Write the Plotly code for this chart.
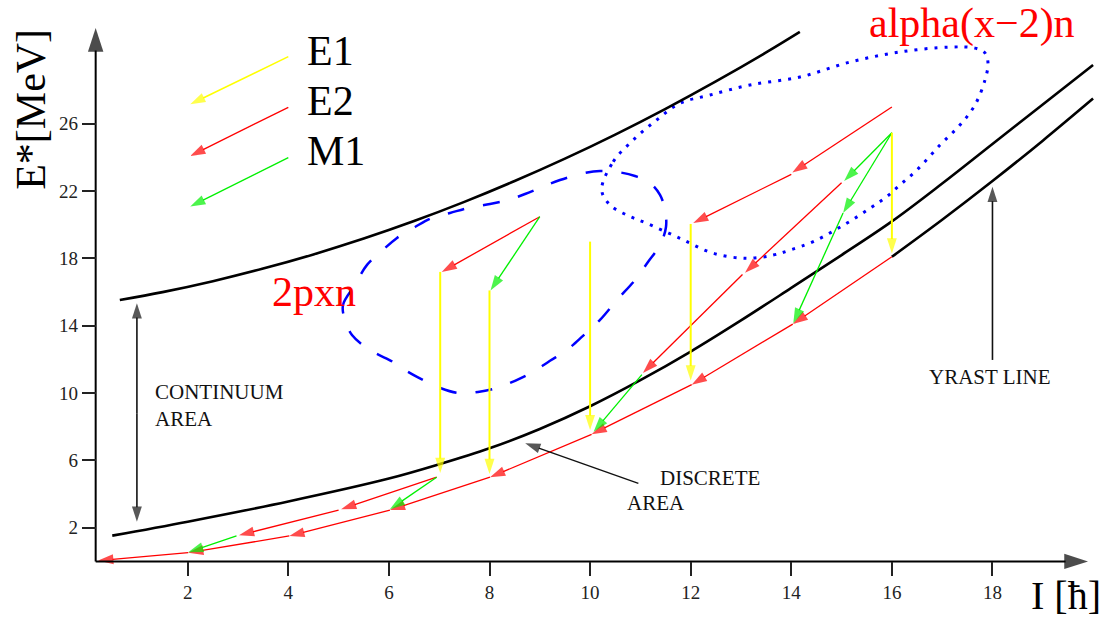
import plotly.graph_objects as go

# ---------------- data: I [hbar] vs E* [MeV] ----------------
UPPER_I = [0.65, 1.5, 2.5, 3.5, 4.5, 5.5, 6.5, 7.5, 8.5, 9.5, 10.5, 11.5, 12.5, 13.5, 14.17]
UPPER_E = [15.53, 16.00, 16.65, 17.40, 18.24, 19.18, 20.22, 21.36, 22.60, 23.93, 25.36, 26.89, 28.52, 30.24, 31.46]

DISC_I = [0.5, 2.0, 4.0, 6.0, 7.0, 8.0, 9.0, 10.0, 11.0, 12.0, 13.0, 14.0, 15.0, 16.0, 17.0, 18.0, 19.0, 20.0]
DISC_E = [1.53, 2.36, 3.56, 4.92, 5.77, 6.72, 7.87, 9.22, 10.77, 12.47, 14.32, 16.25, 18.2, 20.2, 22.45,
          24.8, 27.15, 29.5]

YRAST_I = [16.0, 17.0, 18.0, 19.0, 20.0]
YRAST_E = [18.1, 20.3, 22.6, 25.0, 27.5]

# 2pxn region (dashed)
DASH_I = [5.127, 5.088, 5.326, 5.565, 5.883, 6.161, 6.519, 6.857, 7.215, 7.573, 8.010, 8.368, 8.706,
          9.004, 9.402, 9.899, 10.197, 10.535, 10.893, 11.191, 11.390, 11.489, 11.509, 11.390, 11.151,
          10.893, 10.535, 10.197, 9.859, 9.541, 9.203, 8.865, 8.507, 8.149, 7.771, 7.374, 7.016, 6.559,
          6.221, 6.082, 5.624, 5.266, 5.127]
DASH_E = [14.34, 15.24, 16.43, 17.62, 18.51, 19.22, 19.87, 20.41, 20.70, 21.00, 21.24, 21.47, 21.83,
          22.19, 22.66, 23.08, 23.20, 23.14, 22.90, 22.49, 21.78, 20.89, 19.87, 18.80, 17.79,
          16.72, 15.54, 14.35, 13.40, 12.57, 11.92, 11.26, 10.73, 10.31, 10.07, 10.01, 10.31, 10.96,
          11.55, 11.85, 12.56, 13.45, 14.34]

# alpha(x-2)n region (dotted)
DOT_I = [10.231, 10.461, 10.859, 11.324, 11.787, 12.384, 13.179, 14.173, 15.167, 16.161, 17.155, 17.652,
         17.851, 17.911, 17.851, 17.652, 17.354, 16.956, 16.499, 16.161, 15.897, 15.565, 15.101, 14.437,
         13.974, 13.642, 13.113, 12.449, 11.787, 11.125, 10.728, 10.396, 10.231]
DOT_E = [22.07, 23.75, 25.04, 26.23, 27.22, 27.71, 28.31, 28.78, 29.67, 30.27, 30.56, 30.50,
         30.21, 29.61, 28.60, 27.12, 25.93, 24.74, 23.26, 22.37, 21.67, 20.98, 20.09, 19.00,
         18.50, 18.20, 18.01, 18.31, 19.20, 20.09, 20.58, 21.18, 22.07]

# gamma transitions: (I_start, E_start, I_end, E_end)
E2_ARROWS = [
    (16.0, 18.1, 14.03, 14.1), (14.03, 14.1, 12.02, 10.5), (12.02, 10.5, 10.03, 7.55),
    (10.03, 7.55, 8.01, 5.0), (8.01, 5.0, 6.02, 3.05), (6.02, 3.05, 4.02, 1.51),
    (4.02, 1.51, 2.01, 0.52), (2.01, 0.52, 0.22, 0.05),
    (6.95, 5.0, 5.05, 3.1), (5.0, 3.05, 3.02, 1.55),
    (9.0, 20.48, 7.05, 17.2),
    (16.0, 27.0, 14.02, 23.1), (14.0, 23.0, 12.05, 20.1),
    (15.0, 22.5, 13.08, 17.15), (13.03, 17.05, 11.05, 11.2),
]
E1_ARROWS = [
    (7.02, 17.2, 7.02, 5.25), (8.0, 16.1, 8.0, 5.2), (10.0, 19.0, 10.0, 7.8),
    (12.0, 20.05, 12.0, 10.75), (16.0, 25.47, 16.0, 18.3),
]
M1_ARROWS = [
    (9.0, 20.48, 8.02, 16.1), (16.0, 25.47, 15.05, 22.6), (16.0, 25.47, 15.03, 20.7),
    (15.03, 20.7, 14.04, 14.15), (11.03, 11.1, 10.07, 7.7), (6.95, 5.0, 6.02, 3.1),
    (2.97, 1.51, 2.01, 0.55),
]
LEGEND_NAMES = ["E1", "E2", "M1"]
LEGEND_ARROWS = [(4.0, 29.99, 2.05, 27.16), (4.0, 26.98, 2.05, 24.09), (4.0, 23.99, 2.05, 21.08)]
LEGEND_TEXT_POS = [(4.33, 30.34), (4.33, 27.37), (4.33, 24.36)]

CONT_ARROW = (0.99, 8.8, 15.34, 2.36)      # I, mid E, top E, bottom E
DISC_ARROW = (10.96, 4.64, 8.71, 7.02)
YRAST_ARROW = (18.0, 11.97, 18.0, 22.26)

X_TICKS = [2, 4, 6, 8, 10, 12, 14, 16, 18]
Y_TICKS = [2, 6, 10, 14, 18, 22, 26]
AXIS_ORIGIN = (0.17, 0.0)
X_AXIS_END = 19.9
Y_AXIS_END = 31.69

COLORS = {"E1": "#ffff00", "E2": "#ff0000", "M1": "#00f000"}
SERIF = "Liberation Serif"

fig = go.Figure()


def arrow(x0, y0, x1, y1, color, width, head):
    fig.add_trace(go.Scatter(
        x=[x0, x1], y=[y0, y1], mode="lines+markers",
        line=dict(color=color, width=width),
        marker=dict(symbol=["circle", "arrow"], size=[0, head], angleref="previous",
                    color=color, line=dict(width=0)),
        hoverinfo="skip", showlegend=False, cliponaxis=False))


def curve(xs, ys, color, width, dash="solid", shape="spline"):
    fig.add_trace(go.Scatter(
        x=xs, y=ys, mode="lines", line=dict(color=color, width=width, dash=dash, shape=shape),
        hoverinfo="skip", showlegend=False, cliponaxis=False))


# regions
curve(DASH_I, DASH_E, "#0000ff", 2.5, dash="17px,19px")
curve(DOT_I, DOT_E, "#0000ff", 3, dash="3px,7px")

# boundary curves
curve(UPPER_I, UPPER_E, "black", 2.6)
curve(DISC_I, DISC_E, "black", 2.6)
curve(YRAST_I, YRAST_E, "black", 2.6)

# transitions
for a in E2_ARROWS:
    arrow(*a, COLORS["E2"], 1.3, 16)
for a in M1_ARROWS:
    arrow(*a, COLORS["M1"], 1.3, 16)
for a in E1_ARROWS:
    arrow(*a, COLORS["E1"], 2, 16)

# legend arrows
for name, a in zip(LEGEND_NAMES, LEGEND_ARROWS):
    arrow(*a, COLORS[name], 1.5 if name == "E1" else 1.3, 16)

# axes
ox, oy = AXIS_ORIGIN
arrow(ox, oy, X_AXIS_END, oy, "black", 2, 25)
arrow(ox, oy, ox, Y_AXIS_END, "black", 2, 25)

# black pointer arrows
ci, cm, ct, cb = CONT_ARROW
arrow(ci, cm, ci, ct, "#111", 1.6, 16)
arrow(ci, cm, ci, cb, "#111", 1.6, 16)
arrow(*DISC_ARROW, "#111", 1.4, 16)
arrow(*YRAST_ARROW, "#111", 1.6, 16)

annotations = []


def label(x, y, text, size, color="black", xanchor="left", angle=0):
    annotations.append(dict(x=x, y=y, xref="x", yref="y", text=text, showarrow=False,
                            xanchor=xanchor, yanchor="middle", textangle=angle, align="left",
                            font=dict(family=SERIF, size=size, color=color)))


for name, (lx, ly) in zip(LEGEND_NAMES, LEGEND_TEXT_POS):
    label(lx, ly, name, 42)

label(1.31, 9.26, "CONTINUUM<br>AREA", 21, "#111")
label(11.35, 4.96, "DISCRETE", 21, "#111")
label(10.7, 3.47, "AREA", 21, "#111")
label(16.69, 10.97, "YRAST LINE", 21, "#111")
label(4.515, 15.98, "2pxn", 42, "#ff0000", xanchor="center")
label(17.6, 31.94, "alpha(x\u22122)n", 42, "#ff0000", xanchor="center")
label(-1.119, 26.88, "E*[MeV]", 42, "black", xanchor="center", angle=-90)
label(19.47, -2.04, "I [\u0127]", 40, "black", xanchor="center")

W, H = 1107, 617
fig.update_layout(
    width=W, height=H, margin=dict(l=0, r=0, t=0, b=0),
    paper_bgcolor="white", plot_bgcolor="white", showlegend=False,
    annotations=annotations,
    xaxis=dict(range=[-1.732, 20.277], domain=[0, 1], anchor="free", position=0.0901,
               showgrid=False, zeroline=False, showline=False,
               tickmode="array", tickvals=X_TICKS, ticks="outside", ticklen=14, tickwidth=1.5,
               tickcolor="#222", tickfont=dict(family=SERIF, size=19, color="#222"),
               automargin=False, fixedrange=True),
    yaxis=dict(range=[-3.304, 33.357], domain=[0, 1], anchor="free", position=0.0865,
               showgrid=False, zeroline=False, showline=False,
               tickmode="array", tickvals=Y_TICKS, ticks="outside", ticklen=14, tickwidth=1.5,
               tickcolor="#222", tickfont=dict(family=SERIF, size=19, color="#222"),
               automargin=False, fixedrange=True),
)

fig.write_html("out.html")
